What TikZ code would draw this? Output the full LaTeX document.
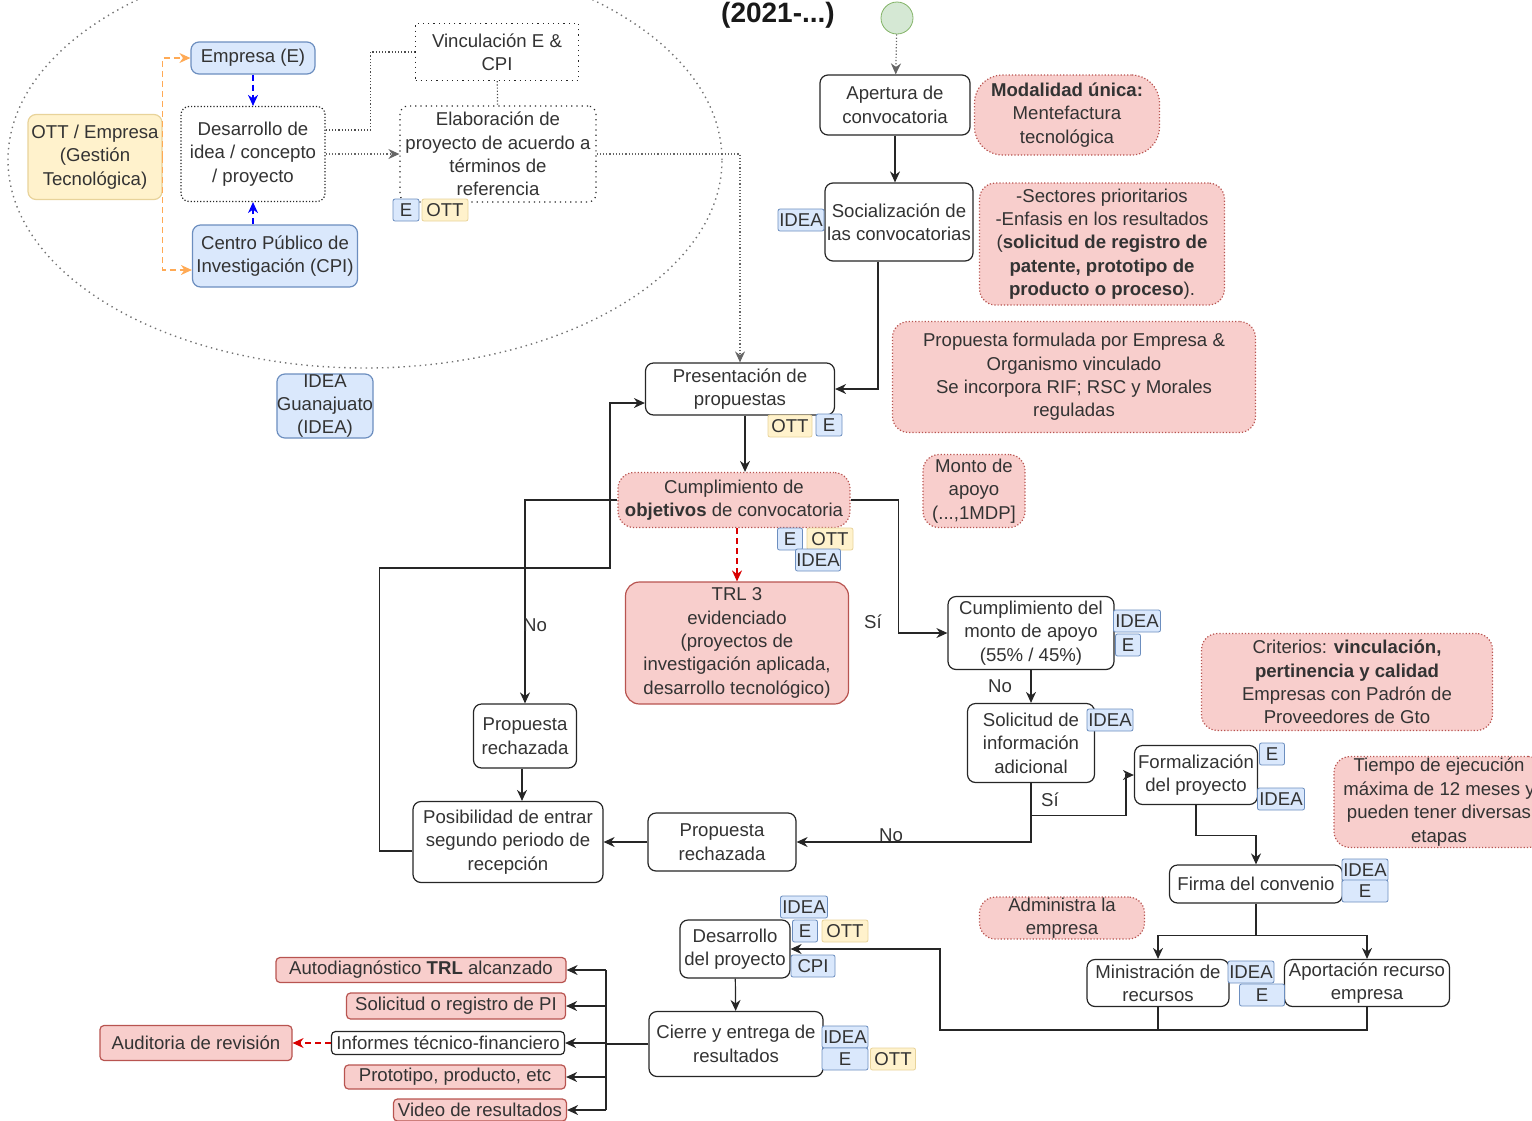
\documentclass[tikz,border=0pt]{standalone}
\usepackage{fontspec}
\setmainfont{Liberation Sans}
\usetikzlibrary{arrows.meta}
\definecolor{txt}{HTML}{333333}
\definecolor{redfill}{HTML}{F8CECC}
\definecolor{redline}{HTML}{B85450}
\definecolor{bluefill}{HTML}{DAE8FC}
\definecolor{blueline}{HTML}{6C8EBF}
\definecolor{yelfill}{HTML}{FFF2CC}
\definecolor{yelline}{HTML}{E8D39A}
\definecolor{grnfill}{HTML}{D5E8D4}
\definecolor{grnline}{HTML}{82B366}
\definecolor{orng}{HTML}{FFAA55}
\tikzstyle{box} = [draw=black!85,line width=0.6pt,rounded corners=4pt,fill=white,align=center,inner sep=0pt,text=txt]
\tikzstyle{note} = [box,draw=redline,fill=redfill,densely dotted,rounded corners=8pt]
\tikzstyle{hot} = [box,draw=redline,fill=redfill]
\tikzstyle{outbox} = [hot,rounded corners=2pt]
\tikzstyle{bluebox} = [box,draw=blueline,fill=bluefill]
\tikzstyle{yelbox} = [box,draw=yelline,fill=yelfill]
\tikzstyle{tagb} = [draw=blueline,fill=bluefill,inner sep=0pt,minimum height=11pt,text=txt,rounded corners=1pt]
\tikzstyle{tagy} = [draw=yelline,fill=yelfill,inner sep=0pt,minimum height=11pt,text=txt,rounded corners=1pt]
\tikzstyle{arrow} = [->,>={Stealth[length=5.5pt,width=5pt]},black!85,line width=0.6pt]
\tikzstyle{dotarrow} = [arrow,densely dotted,black!60]
\tikzstyle{dotline} = [densely dotted,black!70,line width=0.6pt]
\tikzstyle{bluearrow} = [arrow,densely dashed,blue]
\tikzstyle{orangearrow} = [arrow,densely dashed,orng]
\tikzstyle{redarrow} = [arrow,densely dashed,red!85!black]
\tikzstyle{lbl} = [text=txt,inner sep=0pt]

\begin{document}
\begin{tikzpicture}[x=0.5pt,y=-0.5pt]
    \fontsize{9.3}{11.7}\selectfont
    \useasboundingbox (0,0) rectangle (1532,1120);

    % left group
    \draw[dotted,black!55,line width=0.7pt] (365,160) ellipse [x radius=178.5pt,y radius=104pt];
    \node[yelbox,minimum width=67pt,minimum height=42.5pt] at (95,157) (ott) {OTT / Empresa\\(Gestión\\Tecnológica)};
    \node[bluebox,minimum width=62pt,minimum height=16pt] at (253,58) (emp) {Empresa (E)};
    \node[box,densely dotted,minimum width=72pt,minimum height=47.5pt] at (253,154) (desid) {Desarrollo de\\idea / concepto\\/ proyecto};
    \node[bluebox,minimum width=82.5pt,minimum height=31pt] at (275,256) (cpi) {Centro Público de\\Investigación (CPI)};
    \node[box,dotted,rounded corners=0pt,minimum width=81.5pt,minimum height=28.5pt] at (497,52) (vinc) {Vinculación E \&\\CPI};
    \node[box,dotted,minimum width=98pt,minimum height=48pt] at (498,154) (elab) {Elaboración de\\proyecto de acuerdo a\\términos de\\referencia};
    \node[bluebox,minimum width=46.5pt,minimum height=32pt] at (325,406) (ideag) {IDEA\\Guanajuato\\(IDEA)};

    \node[font=\bfseries\fontsize{14}{14}\selectfont,text=black!90] at (778,15) (title) {(2021-...)};
    \node[circle,draw=grnline,fill=grnfill,minimum size=16pt,inner sep=0pt] at (897,18) (start) {};

    % main flow
    \node[box,minimum width=75pt,minimum height=30pt] at (895,105) (apert) {Apertura de\\convocatoria};
    \node[box,minimum width=74pt,minimum height=39pt] at (899,222) (soc) {Socialización de\\las convocatorias};
    \node[box,minimum width=94.5pt,minimum height=26pt] at (740,389) (pres) {Presentación de\\propuestas};
    \node[note,minimum width=116pt,minimum height=27.5pt] at (734,500) (cumpobj) {Cumplimiento de\\\textbf{objetivos} de convocatoria};
    \node[hot,rounded corners=7pt,minimum width=111.5pt,minimum height=61pt] at (737,643) (trl) {TRL 3\\evidenciado\\(proyectos de\\investigación aplicada,\\desarrollo tecnológico)};
    \node[box,minimum width=83pt,minimum height=36.5pt] at (1031,633) (monto) {Cumplimiento del\\monto de apoyo\\(55\% / 45\%)};
    \node[box,minimum width=63.5pt,minimum height=39.5pt] at (1031,743) (solic) {Solicitud de\\información\\adicional};
    \node[box,minimum width=61.5pt,minimum height=29.5pt] at (1196,775) (form) {Formalización\\del proyecto};
    \node[box,minimum width=86.5pt,minimum height=19pt] at (1256,884) (firma) {Firma del convenio};
    \node[box,minimum width=71pt,minimum height=23.5pt] at (1158,983) (minis) {Ministración de\\recursos};
    \node[box,minimum width=82.5pt,minimum height=23.5pt] at (1367,983) (aport) {Aportación recurso\\empresa};
    \node[box,minimum width=74pt,minimum height=29pt] at (722,842) (rech2) {Propuesta\\rechazada};
    \node[box,minimum width=95pt,minimum height=40.5pt] at (508,842) (posib) {Posibilidad de entrar\\segundo periodo de\\recepción};
    \node[box,minimum width=51.5pt,minimum height=32pt] at (525,736) (rech1) {Propuesta\\rechazada};
    \node[box,minimum width=55pt,minimum height=29pt] at (735,949) (desp) {Desarrollo\\del proyecto};
    \node[box,minimum width=87pt,minimum height=32.5pt] at (736,1044) (cierre) {Cierre y entrega de\\resultados};

    % results
    \node[outbox,minimum width=145pt,minimum height=12.5pt] at (421,970) (autod) {Autodiagnóstico \textbf{TRL} alcanzado};
    \node[outbox,minimum width=109.5pt,minimum height=13pt] at (456,1006) (solpi) {Solicitud o registro de PI};
    \node[box,rounded corners=2pt,minimum width=116.5pt,minimum height=11.5pt] at (448,1043) (inf) {Informes técnico-financiero};
    \node[outbox,minimum width=110.5pt,minimum height=12pt] at (455,1077) (proto) {Prototipo, producto, etc};
    \node[outbox,minimum width=86.5pt,minimum height=11pt] at (480,1110) (video) {Video de resultados};
    \node[outbox,minimum width=96pt,minimum height=17.5pt] at (196,1043) (audit) {Auditoria de revisión};

    % notes
    \node[note,rounded corners=14pt,minimum width=92.5pt,minimum height=40pt] at (1067,115) (nmod) {\textbf{Modalidad única:}\\Mentefactura\\tecnológica};
    \node[note,minimum width=122.5pt,minimum height=61pt] at (1102,244) (nsec) {-Sectores prioritarios\\-Enfasis en los resultados\\(\textbf{solicitud de registro de}\\\textbf{patente, prototipo de}\\\textbf{producto o proceso}).};
    \node[note,minimum width=181.5pt,minimum height=55.5pt] at (1074,377) (nprop) {Propuesta formulada por Empresa \&\\Organismo vinculado\\Se incorpora RIF; RSC y Morales\\reguladas};
    \node[note,minimum width=51pt,minimum height=36.5pt] at (974,491) (nmonto) {Monto de\\apoyo\\(...,1MDP]};
    \node[note,minimum width=145.5pt,minimum height=48.5pt] at (1347,682) (ncrit) {Criterios: \textbf{vinculación,}\\\textbf{pertinencia y calidad}\\Empresas con Padrón de\\Proveedores de Gto};
    \node[note,minimum width=105pt,minimum height=45.5pt] at (1439,802) (ntiempo) {Tiempo de ejecución\\máxima de 12 meses y\\pueden tener diversas\\etapas};
    \node[note,minimum width=82.5pt,minimum height=21pt] at (1062,918) (nadmin) {Administra la\\empresa};

    % tags
    \node[tagb,minimum width=23pt] at (801,220) (t1) {IDEA};
    \node[tagy,minimum width=22pt] at (790,426) (t2) {OTT};
    \node[tagb,minimum width=13pt] at (829,425) (t3) {E};
    \node[tagb,minimum width=12.5pt] at (790,539) (t4) {E};
    \node[tagy,minimum width=23pt] at (830,539) (t5) {OTT};
    \node[tagb,minimum width=22.5pt] at (818,560) (t6) {IDEA};
    \node[tagb,minimum width=23.5pt] at (1137,621) (t7) {IDEA};
    \node[tagb,minimum width=12.5pt] at (1128,645) (t8) {E};
    \node[tagb,minimum width=23pt] at (1110,720) (t9) {IDEA};
    \node[tagb,minimum width=12.5pt] at (1272,754) (t10) {E};
    \node[tagb,minimum width=23.5pt] at (1281,799) (t11) {IDEA};
    \node[tagb,minimum width=23pt] at (1365,870) (t12) {IDEA};
    \node[tagb,minimum width=23pt] at (1365,891) (t13) {E};
    \node[tagb,minimum width=23pt] at (1251,972) (t14) {IDEA};
    \node[tagb,minimum width=22.5pt] at (1262,995) (t15) {E};
    \node[tagb,minimum width=23.5pt] at (804,907) (t16) {IDEA};
    \node[tagb,minimum width=12.5pt] at (805,931) (t17) {E};
    \node[tagy,minimum width=23pt] at (845,931) (t18) {OTT};
    \node[tagb,minimum width=22pt] at (813,966) (t19) {CPI};
    \node[tagb,minimum width=23pt] at (845,1037) (t20) {IDEA};
    \node[tagb,minimum width=23pt] at (845,1059) (t21) {E};
    \node[tagy,minimum width=22.5pt] at (893,1059) (t22) {OTT};
    \node[tagb,minimum width=13pt] at (406,210) (t23) {E};
    \node[tagy,minimum width=23pt] at (445,210) (t24) {OTT};

    % connectors, left group
    \draw[orangearrow] (ott.east) |- (emp.west);
    \draw[orangearrow] (ott.east) |- ([yshift=-7pt]cpi.west);
    \draw[bluearrow] (emp) -- (desid);
    \draw[bluearrow] (desid |- cpi.north) -- (desid.south);
    \draw[dotline] ([yshift=12pt]desid.east) -- ++(22.5pt,0) |- (vinc.west);
    \draw[dotline] (vinc) -- (elab);
    \draw[dotarrow] (desid.east) -- (elab.west);
    \draw[dotarrow] (elab.east) -| (pres.north);

    % connectors, main flow
    \draw[dotarrow] (start) -- (apert);
    \draw[arrow] (apert.south) -- (apert.south |- soc.north);
    \draw[arrow] ([xshift=-10.5pt]soc.south) |- (pres.east);
    \draw[arrow] ([xshift=2.5pt]pres.south) -- ([xshift=2.5pt]pres.south |- cumpobj.north);
    \draw[redarrow] ([xshift=1.5pt]cumpobj.south) -- (trl.north);
    \draw[arrow] (cumpobj.east) -- ++(24pt,0) |- (monto.west);
    \node[lbl] at (873,622) (si1) {Sí};
    \draw[arrow] (cumpobj.west) -| (rech1.north);
    \node[lbl] at (535,625) (no1) {No};
    \draw[arrow] ([xshift=-1.5pt]rech1.south) -- ([xshift=-1.5pt]rech1.south |- posib.north);
    \coordinate (loopc) at (610,568);
    \draw[arrow] ([yshift=-4.5pt]posib.west) -- ++(-16.5pt,0) |- (loopc) |- ([yshift=-7pt]pres.west);
    \draw[arrow] (monto) -- (solic);
    \node[lbl] at (1000,686) (no2) {No};
    \draw[arrow] (solic.south) |- (rech2.east);
    \node[lbl] at (891,835) (no3) {No};
    \draw[arrow] ([yshift=-16pt]solic.south) -| ([xshift=-4pt]form.west) -- (form.west);
    \node[lbl] at (1050,800) (si2) {Sí};
    \draw[arrow] (rech2) -- (posib);
    \draw[arrow] (form.south) -- ++(0,-15pt) -| (firma.north);
    \draw[line width=0.6pt,black!85] (firma.south) -- ++(0,-16pt) coordinate (split);
    \draw[arrow] (split) -| (minis.north);
    \draw[arrow] (split) -| (aport.north);
    \coordinate (merge) at (940,1030);
    \draw[line width=0.6pt,black!85] (minis.south) -- (minis.south |- merge);
    \draw[arrow] (aport.south) |- (merge) |- (desp.east);
    \draw[arrow] (desp) -- (cierre);

    % results
    \coordinate (bus) at (606,1044);
    \draw[line width=0.6pt,black!85] (cierre.west) -- (bus);
    \draw[line width=0.6pt,black!85] (bus |- autod.east) -- (bus |- video.east);
    \foreach \n in {autod,solpi,inf,proto,video}
        \draw[arrow] (bus |- \n.east) -- (\n.east);
    \draw[redarrow] (inf.west) -- (audit.east);
\end{tikzpicture}
\end{document}
